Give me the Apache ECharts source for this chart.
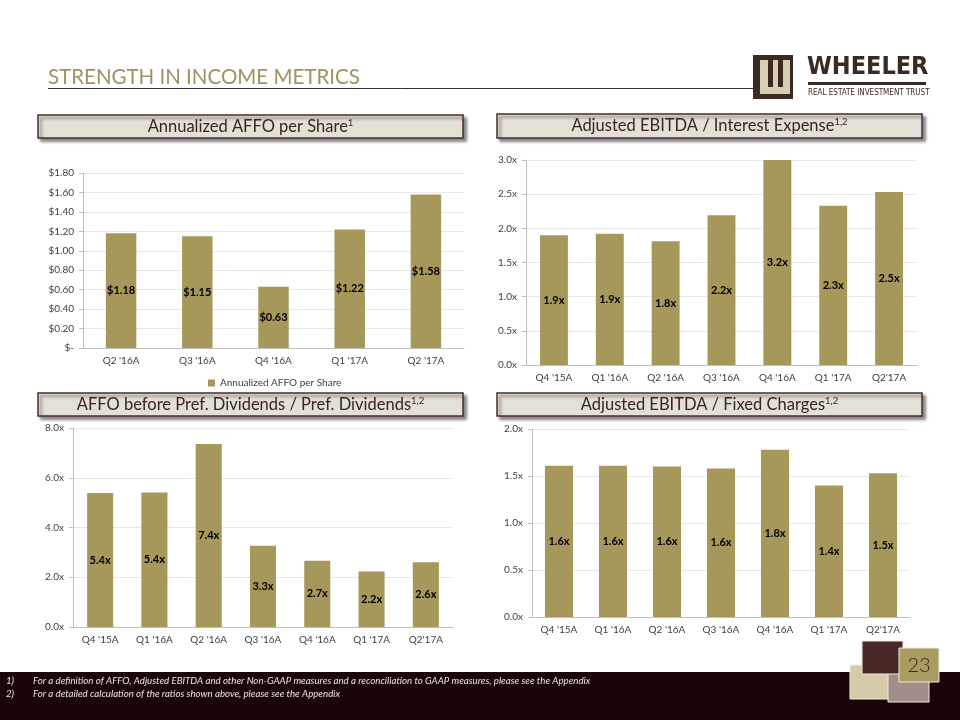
<!DOCTYPE html>
<html><head><meta charset="utf-8">
<script src="https://cdn.jsdelivr.net/npm/echarts@6/dist/echarts.min.js"></script>
<style>html,body{margin:0;padding:0;background:#fff}#c{width:960px;height:720px}</style>
</head><body><div id="c"></div>
<script>
// ---- data ----
const affoCats = ["Q2 '16A", "Q3 '16A", "Q4 '16A", "Q1 '17A", "Q2 '17A"];
const affoValues = [1.18, 1.15, 0.63, 1.22, 1.58];
const affoSeriesName = 'Annualized AFFO per Share';

const ratioCats = ["Q4 '15A", "Q1 '16A", "Q2 '16A", "Q3 '16A", "Q4 '16A", "Q1 '17A", "Q2'17A"];
const ebitdaInterest = [1.90, 1.92, 1.81, 2.19, 3.20, 2.33, 2.53];
const affoPrefDiv = [5.39, 5.41, 7.36, 3.27, 2.66, 2.23, 2.60];
const ebitdaFixed = [1.61, 1.61, 1.60, 1.58, 1.78, 1.40, 1.53];

const chartTitles = [
  'Annualized AFFO per Share', 'Adjusted EBITDA / Interest Expense',
  'AFFO before Pref. Dividends / Pref. Dividends', 'Adjusted EBITDA / Fixed Charges'
];
const chartSups = ['1', '1,2', '1,2', '1,2'];
const footnotes = [
  'For a definition of AFFO, Adjusted EBITDA and other Non-GAAP measures and a reconciliation to GAAP measures, please see the Appendix',
  'For a detailed calculation of the ratios shown above, please see the Appendix'
];
const pageNumber = '23';

// ---- styles ----
const BAR = '#a6985a';
const AX = '#bfbfbf';
const LBL = '#404040';
const FONT = 'Lato';

function xAx(gi, cats) {
  return {
    type: 'category', gridIndex: gi, data: cats,
    axisLine: { lineStyle: { color: AX } },
    axisTick: { length: 5, lineStyle: { color: AX } },
    axisLabel: { color: LBL, fontSize: 10, fontFamily: FONT, margin: 8 }
  };
}
function yAx(gi, max, interval, fmt) {
  return {
    type: 'value', gridIndex: gi, min: 0, max: max, interval: interval,
    axisLine: { show: true, lineStyle: { color: AX } },
    axisTick: { show: true, length: 4, lineStyle: { color: AX } },
    splitLine: { lineStyle: { color: '#e8e8e8' } },
    axisLabel: { color: LBL, fontSize: 10, fontFamily: FONT, margin: 9, formatter: fmt }
  };
}
const xFmt = v => v.toFixed(1) + 'x';
function barSeries(name, idx, data, width, fmt) {
  return {
    name: name, type: 'bar', xAxisIndex: idx, yAxisIndex: idx, data: data,
    barWidth: width, clip: true,
    itemStyle: { color: BAR },
    label: { show: true, position: 'inside', color: '#000', fontWeight: 'bold',
      fontSize: 11, fontFamily: FONT, formatter: p => fmt(p.value) }
  };
}

function headerBox(x, y, w, h, title, sup) {
  return [{
    type: 'rect', shape: { x: x, y: y, width: w, height: h },
    style: { fill: '#e3e0d8', stroke: '#4a2c2c', lineWidth: 1.5,
      shadowBlur: 3, shadowOffsetX: 3, shadowOffsetY: 3, shadowColor: 'rgba(0,0,0,0.45)' }
  }, {
    type: 'text', x: x + w / 2, y: y + h / 2,
    style: {
      text: '{m|' + title + '}{s|' + sup + '}', align: 'center', verticalAlign: 'middle',
      rich: {
        m: { fontSize: 16.5, fontFamily: FONT, fill: '#3c2222', lineHeight: 18 },
        s: { fontSize: 9.5, fontFamily: FONT, fill: '#3c2222', verticalAlign: 'top', lineHeight: 18 }
      }
    }
  }];
}

const graphics = [].concat(
  [{
    type: 'text', x: 48, y: 67,
    style: { text: 'STRENGTH IN INCOME METRICS', fontSize: 20.5, fontFamily: FONT, fill: '#9e9364' }
  }, {
    type: 'line', shape: { x1: 48, y1: 88.5, x2: 755, y2: 88.5 },
    style: { stroke: '#333', lineWidth: 1 }
  },
  // logo
  { type: 'rect', shape: { x: 753, y: 55, width: 40, height: 44 }, style: { fill: '#3b2a22' } },
  { type: 'rect', shape: { x: 760, y: 60, width: 30, height: 34 }, style: { fill: '#d8cfb2' } },
  { type: 'rect', shape: { x: 768, y: 60, width: 5, height: 27 }, style: { fill: '#3b2a22' } },
  { type: 'rect', shape: { x: 778, y: 60, width: 5, height: 27 }, style: { fill: '#3b2a22' } },
  { type: 'text', x: 807, y: 55,
    style: { text: 'WHEELER', fontSize: 25, fontWeight: 'bold', fontFamily: 'DejaVu Sans Condensed', fill: '#3b2a22' } },
  { type: 'rect', shape: { x: 808, y: 82, width: 118, height: 3 }, style: { fill: '#3b2a22' } },
  { type: 'text', x: 808, y: 89,
    style: { text: 'REAL ESTATE INVESTMENT TRUST', fontSize: 8, fontFamily: 'DejaVu Sans Condensed', fill: '#3b2a22' } }
  ],
  headerBox(38, 115, 425, 23, chartTitles[0], chartSups[0]),
  headerBox(497, 114, 425, 24, chartTitles[1], chartSups[1]),
  headerBox(38, 393, 425, 23, chartTitles[2], chartSups[2]),
  headerBox(497, 393, 425, 23, chartTitles[3], chartSups[3]),
  [
    { type: 'rect', shape: { x: 0, y: 672, width: 960, height: 48 }, style: { fill: '#1a0508' } },
    { type: 'text', x: 6, y: 676, style: { text: '1)', fontSize: 9.7, fontStyle: 'italic', fontFamily: FONT, fill: '#ece4e4' } },
    { type: 'text', x: 33, y: 676, style: { text: footnotes[0], fontSize: 9.7, fontStyle: 'italic', fontFamily: FONT, fill: '#ece4e4' } },
    { type: 'text', x: 6, y: 689, style: { text: '2)', fontSize: 9.7, fontStyle: 'italic', fontFamily: FONT, fill: '#ece4e4' } },
    { type: 'text', x: 33, y: 689, style: { text: footnotes[1], fontSize: 9.7, fontStyle: 'italic', fontFamily: FONT, fill: '#ece4e4' } },
    // decoration squares
    { type: 'rect', shape: { x: 850, y: 665, width: 39, height: 34 }, style: { fill: '#d5cba8', stroke: '#efeae0', lineWidth: 1 } },
    { type: 'rect', shape: { x: 888, y: 673, width: 41, height: 29 }, style: { fill: '#a08e8a', stroke: '#efeae0', lineWidth: 1 } },
    { type: 'rect', shape: { x: 862, y: 641, width: 41, height: 33 }, style: { fill: '#4a2828', stroke: '#efeae0', lineWidth: 1 } },
    { type: 'rect', shape: { x: 899, y: 648, width: 40, height: 34 }, style: { fill: '#a89c60', stroke: '#efeae0', lineWidth: 1 } },
    { type: 'text', x: 919, y: 666, style: { text: pageNumber, fontSize: 20, fontWeight: 300, fontFamily: FONT, fill: '#3a2525', align: 'center', verticalAlign: 'middle' } }
  ]
);

const chart = echarts.init(document.getElementById('c'), null, { renderer: 'canvas' });
chart.setOption({
  animation: false,
  backgroundColor: '#ffffff',
  textStyle: { fontFamily: FONT },
  grid: [
    { left: 83, right: 496, top: 173, bottom: 372 },
    { left: 526, right: 43, top: 160, bottom: 355 },
    { left: 73, right: 507, top: 428, bottom: 93 },
    { left: 532, right: 50, top: 429, bottom: 103 }
  ],
  legend: {
    data: [affoSeriesName], left: 203, top: 373, icon: 'rect', itemWidth: 7, itemHeight: 7,
    itemGap: 5, textStyle: { color: LBL, fontSize: 10, fontFamily: FONT }
  },
  xAxis: [xAx(0, affoCats), xAx(1, ratioCats), xAx(2, ratioCats), xAx(3, ratioCats)],
  yAxis: [
    yAx(0, 1.8, 0.2, v => v === 0 ? '$-' : '$' + v.toFixed(2)),
    yAx(1, 3.0, 0.5, xFmt),
    yAx(2, 8.0, 2.0, xFmt),
    yAx(3, 2.0, 0.5, xFmt)
  ],
  series: [
    barSeries(affoSeriesName, 0, affoValues, '40%', v => '$' + v.toFixed(2)),
    barSeries('EBITDA / Interest', 1, ebitdaInterest, '50%', xFmt),
    barSeries('AFFO / Pref', 2, affoPrefDiv, '48%', xFmt),
    barSeries('EBITDA / Fixed', 3, ebitdaFixed, '52%', xFmt)
  ],
  graphic: { elements: graphics }
});
</script>
</body></html>
